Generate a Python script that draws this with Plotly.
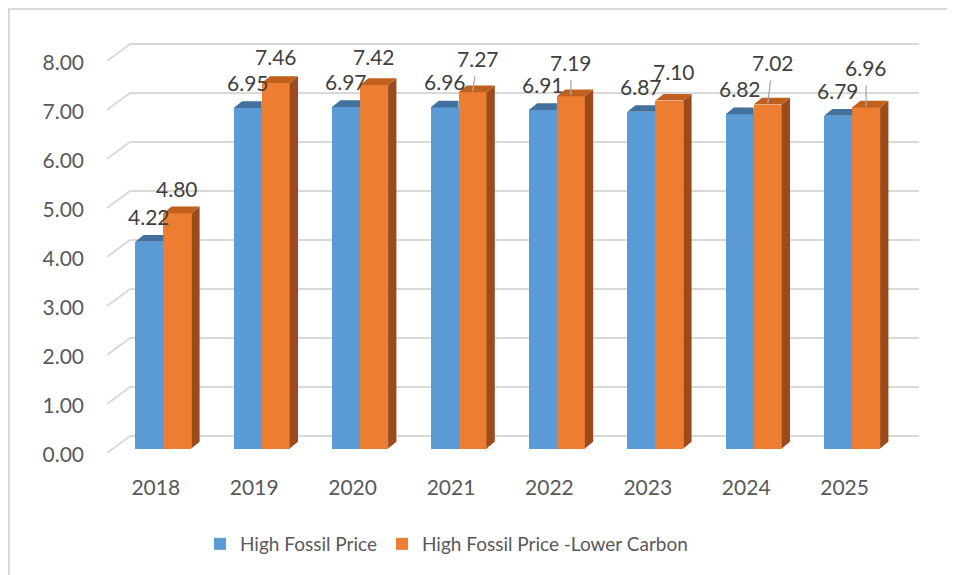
import plotly.graph_objects as go

# ---------------- data ----------------
years = ["2018", "2019", "2020", "2021", "2022", "2023", "2024", "2025"]
high_fossil = [4.22, 6.95, 6.97, 6.96, 6.91, 6.87, 6.82, 6.79]
high_fossil_lower_carbon = [4.80, 7.46, 7.42, 7.27, 7.19, 7.10, 7.02, 6.96]
y_ticks = [0, 1, 2, 3, 4, 5, 6, 7, 8]
series_names = ["High Fossil Price", "High Fossil Price -Lower Carbon"]

# data-label placement (pixel offsets from the bar top) for the orange series
orange_label_dx = [0, 0, 0, 5, 0, 5, 5, 0]
orange_label_dy = [-25, -26, -28, -34, -34, -29, -42, -40]
orange_leader = [False, False, False, True, True, False, True, True]
blue_label_dy = -25.5

# ---------------- layout geometry ----------------
OFF = 8                      # page body margin: figure starts 8px into the page
W, H = 955 - OFF, 575 - OFF
ML, MR, MT, MB = 87, 22, 22, 105
PW, PH = W - ML - MR, H - MT - MB


def fx(p):   # page pixel -> figure pixel
    return p - OFF


X0_PX, CAT_PX = fx(163.3), 98.4      # first category centre, px per category
Y0_PX, UNIT_PX = fx(448.5), 49.0     # value 0 on bar plane, px per unit
xr = [(ML - X0_PX) / CAT_PX, (ML + PW - X0_PX) / CAT_PX]
yr = [(Y0_PX - (MT + PH)) / UNIT_PX, (Y0_PX - MT) / UNIT_PX]


def ux(p):
    return p / CAT_PX


def uy(p):
    return p / UNIT_PX


BW = ux(28)                  # bar width
DX, DY = ux(8.3), uy(6.7)    # bar depth (3-D offset)

BLUE, BLUE_TOP = "#5B9BD5", "#41719C"
ORANGE, ORANGE_TOP, ORANGE_SIDE = "#ED7D31", "#C0601F", "#9C4B1C"
GRID = "#D9D9D9"
TXT = "#595959"
LBL = "#404040"
FONT = "Lato"
FS = 21

fig = go.Figure()
xs = list(range(len(years)))

# front faces
fig.add_trace(go.Bar(x=[i - BW / 2 for i in xs], y=high_fossil, width=BW,
                     marker=dict(color=BLUE, line=dict(width=0)),
                     name=series_names[0], hoverinfo="skip"))
fig.add_trace(go.Bar(x=[i + BW / 2 for i in xs], y=high_fossil_lower_carbon, width=BW,
                     marker=dict(color=ORANGE, line=dict(width=0)),
                     name=series_names[1], hoverinfo="skip"))

# blue top caps (part not hidden by the orange bar)
bx, by = [], []
for i, v in zip(xs, high_fossil):
    L, R = i - BW, i
    bx += [L, R, R, L + DX, L, None]
    by += [v, v, v + DY, v + DY, v, None]
fig.add_trace(go.Scatter(x=bx, y=by, fill="toself", fillcolor=BLUE_TOP, mode="none",
                         showlegend=False, hoverinfo="skip"))

# orange side faces and top caps
sx, sy, tx, ty = [], [], [], []
for i, v in zip(xs, high_fossil_lower_carbon):
    L, R = i, i + BW
    sx += [R, R + DX, R + DX, R, R, None]
    sy += [0, DY, v + DY, v, 0, None]
    tx += [L, R, R + DX, L + DX, L, None]
    ty += [v, v, v + DY, v + DY, v, None]
fig.add_trace(go.Scatter(x=sx, y=sy, fill="toself", fillcolor=ORANGE_SIDE, mode="none",
                         showlegend=False, hoverinfo="skip"))
fig.add_trace(go.Scatter(x=tx, y=ty, fill="toself", fillcolor=ORANGE_TOP, mode="none",
                         showlegend=False, hoverinfo="skip"))

# invisible trace so the tick-label axis exists
fig.add_trace(go.Scatter(x=[0], y=[0], yaxis="y2", mode="markers",
                         marker=dict(opacity=0), showlegend=False, hoverinfo="skip"))

# back wall gridlines + left wall diagonals
back_dy = 12.5      # px, back wall above the bar plane
front_dy = -4.5     # px, front edge below the bar plane
x_left_back = (fx(130) - X0_PX) / CAT_PX
x_right_back = (fx(919) - X0_PX) / CAT_PX
x_left_front = (fx(107) - X0_PX) / CAT_PX
shapes = []
for v in y_ticks:
    yb = v + uy(back_dy)
    yf = v + uy(front_dy)
    shapes.append(dict(type="line", xref="x", yref="y", x0=x_left_back, x1=x_right_back,
                       y0=yb, y1=yb, line=dict(color=GRID, width=2), layer="below"))
    shapes.append(dict(type="line", xref="x", yref="y", x0=x_left_front, x1=x_left_back,
                       y0=yf, y1=yb, line=dict(color=GRID, width=2), layer="below"))
# chart border (left/top visible)
shapes.append(dict(type="rect", xref="paper", yref="paper",
                   x0=(1 - ML) / PW, x1=(W + 10 - ML) / PW,
                   y0=(MT + PH - (H + 10)) / PH, y1=(MT + PH - 1) / PH,
                   line=dict(color=GRID, width=2), layer="below"))

# data labels
ann = []
for i, v in zip(xs, high_fossil):
    ann.append(dict(x=i - BW / 2, y=v, xref="x", yref="y", text=f"{v:.2f}",
                    showarrow=False, yshift=-blue_label_dy,
                    font=dict(family=FONT, size=FS, color=LBL)))
for i, v, dx, dy, lead in zip(xs, high_fossil_lower_carbon, orange_label_dx,
                              orange_label_dy, orange_leader):
    if lead:
        ann.append(dict(x=i + BW / 2, y=v, xref="x", yref="y", text=f"{v:.2f}",
                        showarrow=True, arrowhead=0, arrowwidth=1.3, arrowcolor="#A6A6A6",
                        ax=dx, ay=dy, standoff=1, borderpad=5,
                        font=dict(family=FONT, size=FS, color=LBL)))
    else:
        ann.append(dict(x=i + BW / 2, y=v, xref="x", yref="y", text=f"{v:.2f}",
                        showarrow=False, xshift=dx, yshift=-dy,
                        font=dict(family=FONT, size=FS, color=LBL)))

fig.update_layout(
    width=W, height=H,
    margin=dict(l=ML, r=MR, t=MT, b=MB),
    paper_bgcolor="white", plot_bgcolor="white",
    barmode="overlay", bargap=0,
    font=dict(family=FONT, size=FS, color=TXT),
    xaxis=dict(range=xr, tickmode="array", tickvals=[i - ux(7.5) for i in xs],
               ticktext=years, showgrid=False, zeroline=False, showline=False,
               ticks="", ticklabelstandoff=3,
               tickfont=dict(family=FONT, size=FS, color=TXT)),
    yaxis=dict(range=yr, visible=False, showgrid=False, zeroline=False),
    yaxis2=dict(range=[yr[0] + uy(6.5), yr[1] + uy(6.5)], overlaying="y", side="left",
                anchor="x", tickmode="array", tickvals=y_ticks,
                ticktext=[f"{t:.2f}" for t in y_ticks], showgrid=False, zeroline=False,
                showline=False, ticks="", ticklabelstandoff=10,
                tickfont=dict(family=FONT, size=FS, color=TXT)),
    legend=dict(orientation="h", x=(fx(200) - ML) / PW, xanchor="left",
                y=(MT + PH - fx(544)) / PH, yanchor="middle",
                font=dict(family=FONT, size=19, color=TXT), bgcolor="rgba(0,0,0,0)"),
    shapes=shapes, annotations=ann,
)

fig.write_html("out.html")
